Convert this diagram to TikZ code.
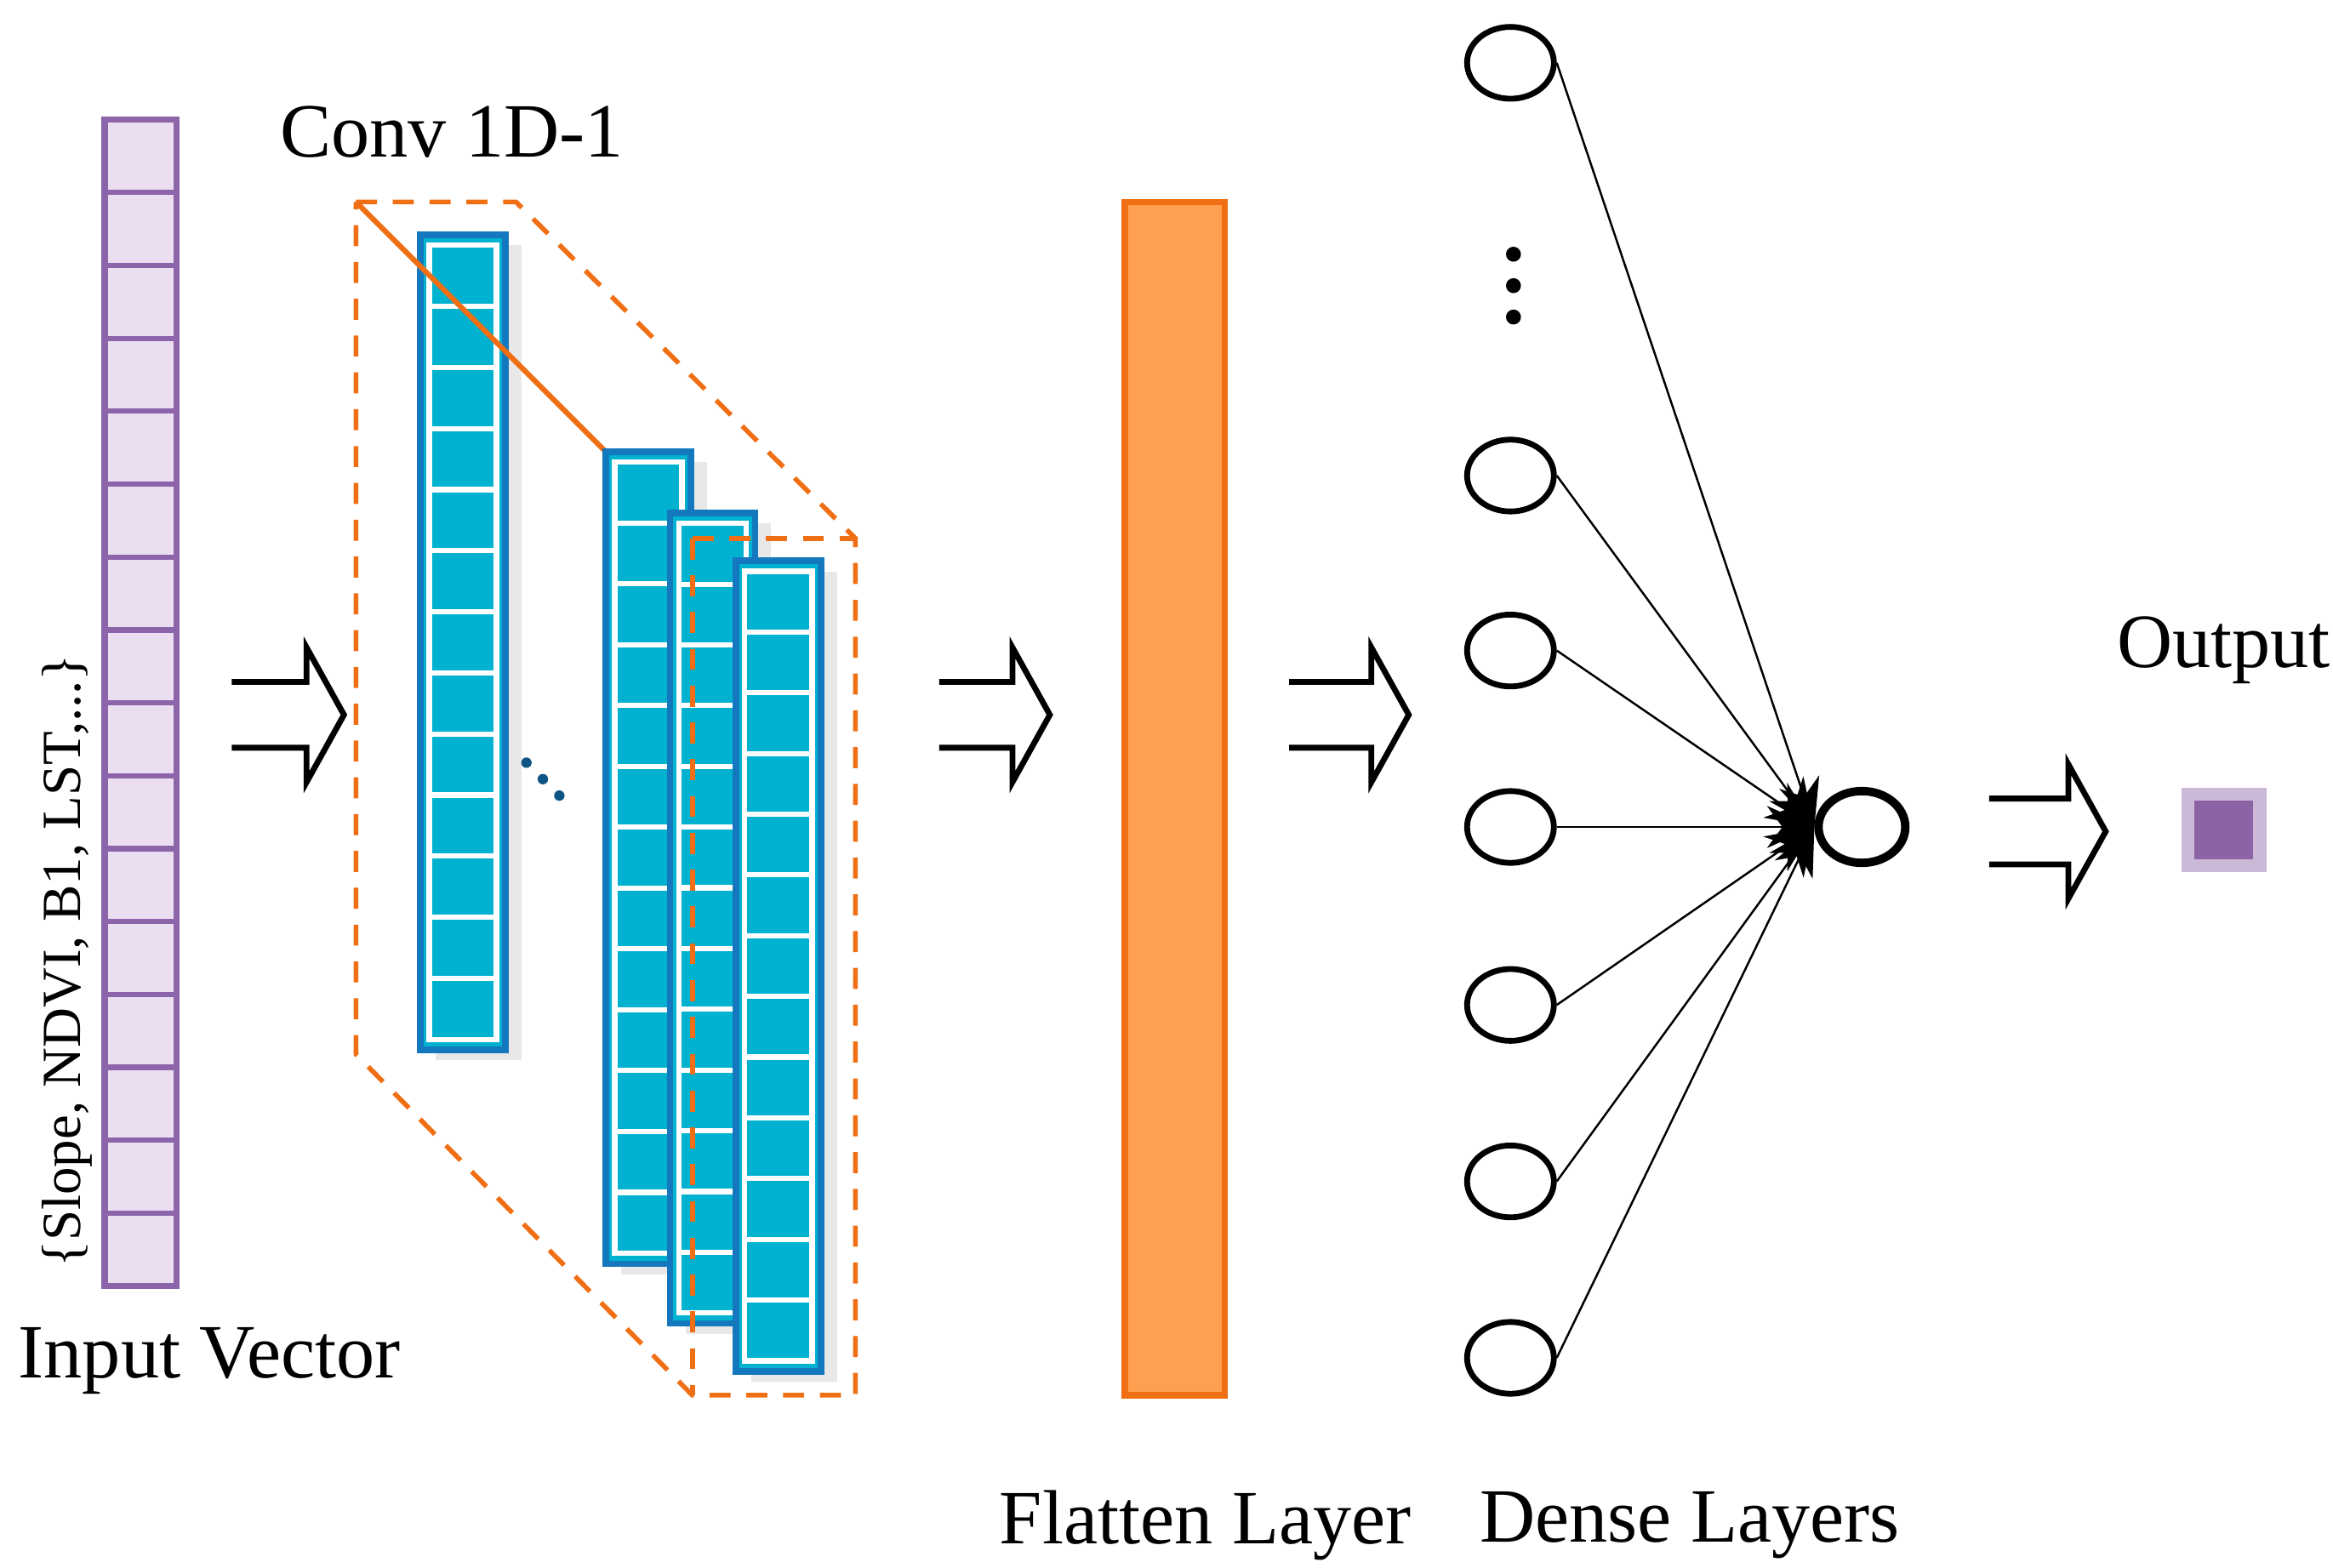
\documentclass[tikz,border=0pt]{standalone}
\usepackage{fontspec}
\setmainfont{Liberation Serif}
\usetikzlibrary{arrows.meta,shadows,shapes.geometric}
\definecolor{lavfill}{RGB}{234,222,240}
\definecolor{lavline}{RGB}{140,100,170}
\definecolor{cyanbar}{RGB}{0,178,208}
\definecolor{cyanedge}{RGB}{20,120,190}
\definecolor{orfill}{RGB}{255,160,80}
\definecolor{oredge}{RGB}{240,110,20}
\definecolor{outsq}{RGB}{140,100,165}
\tikzset{
  lbl/.style={font=\fontsize{14.6}{17}\selectfont},
  neuron/.style={draw,ellipse,minimum width=0.58cm,minimum height=0.48cm,inner sep=0pt},
  edge/.style={-{Stealth[length=9pt,width=8pt]}},
  dashor/.style={draw=oredge,dash pattern=on 4pt off 3pt,line width=0.9pt},
  hollow/.style={line width=1.1pt}
}
% bar with cells: #1 left, #2 top, #3 bottom
\newcommand{\convbar}[3]{%
  \fill[cyanbar,draw=cyanedge,line width=1.2pt,drop shadow={shadow xshift=3pt,shadow yshift=-2pt,opacity=0.18}] (#1,#2) rectangle ++(57,#3-#2);
  \draw[white,line width=1pt] (#1+6,#2+7) rectangle (#1+51,#3-7);
  \foreach \k in {1,...,12}
    \draw[white,line width=1pt] (#1+6,{#2+7+\k*(#3-#2-14)/13}) -- ++(45,0);
}
\newcommand{\fatarrow}[3]{%
  \draw[hollow] (#1,#3-22) -- (#2-25,#3-22) -- (#2-25,#3-45) -- (#2,#3) -- (#2-25,#3+45) -- (#2-25,#3+22) -- (#1,#3+22);
}
\begin{document}
\begin{tikzpicture}[x=0.01cm,y=-0.01cm]
\useasboundingbox (0,0) rectangle (1560,1048);
% input vector
\draw[lavline,fill=lavfill,line width=1.2pt] (70,80) rectangle (118,860);
\foreach \i in {1,...,15}
  \draw[lavline,line width=1pt] (70,{80+\i*48.75}) -- (118,{80+\i*48.75});
\node[rotate=90,anchor=west,font=\fontsize{10.5}{12}\selectfont] (feat) at (45,860) {\{Slope, NDVI, B1, LST,...\}};
\node[lbl] (inlbl) at (140,910) {Input Vector};
\node[lbl] (convlbl) at (302,88) {Conv 1D-1};
% conv block
\path[dashor] (238,135) -- (345,135) -- (572,360) -- (572,933) -- (463,933) -- (238,705) -- cycle;
\convbar{281}{157}{702}
\draw[oredge,line width=1pt] (238,135) -- (463,360);
\convbar{405}{302}{845}
\convbar{448}{343}{885}
\convbar{492}{375}{917}
\path[dashor] (463,360) -- (572,360) (463,360) -- (463,933);
\foreach \d in {0,1,2}
  \fill[cyanedge!70!black] ({352+\d*11},{510+\d*11}) circle (3.5);
% hollow arrows
\fatarrow{155}{230}{478}
\fatarrow{628}{702}{478}
\fatarrow{862}{942}{478}
\fatarrow{1330}{1408}{556}
% flatten
\draw[oredge,fill=orfill,line width=1.2pt] (752,135) rectangle (819,933);
\node[lbl] (flatlbl) at (806,1020) {Flatten Layer};
\node[lbl] (denselbl) at (1130,1020) {Dense Layers};
% dense
\foreach \n/\y in {1/42,2/318,3/435,4/553,5/672,6/790,7/908}
  \node[neuron,line width=1.1pt] (d\n) at (1010,\y) {};
\foreach \y in {170,191,212}
  \fill (1012,\y) circle (5);
\node[neuron,line width=1.6pt] (out) at (1245,553) {};
\foreach \n in {1,...,7}
  \draw[edge] (d\n.east) -- (out.west);
% output
\node[lbl] (outlbl) at (1487,435) {Output};
\node[draw=outsq!45,line width=2.5pt,fill=outsq,minimum size=0.48cm,inner sep=0pt] (res) at (1487,555) {};
\end{tikzpicture}
\end{document}
